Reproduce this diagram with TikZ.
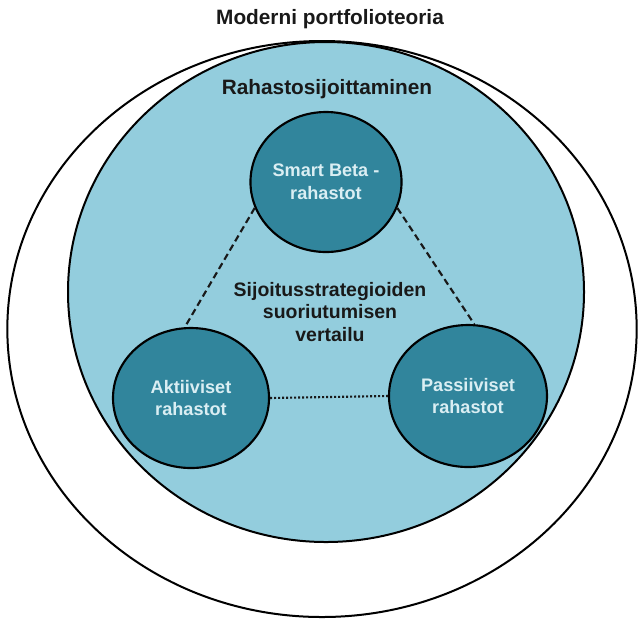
\documentclass[tikz,border=0pt]{standalone}
\usepackage{fontspec}
\setmainfont{Liberation Sans}
\usetikzlibrary{shapes,positioning}
\definecolor{aqualight}{HTML}{93CDDD}
\definecolor{aquadark}{HTML}{31859C}
\definecolor{aquatext}{HTML}{DAEEF3}

\begin{document}
\begin{tikzpicture}[x=0.75pt, y=-0.75pt]
  % Nested fields and the three fund types
  \tikzstyle{field} = [ellipse, draw=black, line width=1.5pt, inner sep=0pt]
  \tikzstyle{fund} = [ellipse, draw=black, line width=1.6pt, fill=aquadark, text=aquatext, align=center, inner sep=0pt, font=\fontsize{13.6}{17}\selectfont\bfseries]
  \tikzstyle{heading} = [text=black!90, font=\fontsize{15.6}{18}\selectfont\bfseries]
  \tikzstyle{link} = [line width=1.6pt, draw=black!90]
  \useasboundingbox (0,0) rectangle (638,619);

  % Outer and inner field
  \node[field, fill=white, minimum width=472pt, minimum height=432pt] (theory) at (322, 329) {};
  \node[field, fill=aqualight, minimum width=387pt, minimum height=375pt] (funds) at (326, 292) {};
  \node[heading] (theorylabel) at (330, 19) {Moderni portfolioteoria};
  \node[heading] (fundslabel) at (327, 89) {Rahastosijoittaminen};

  % Fund types
  \node[fund, minimum width=112.5pt, minimum height=105pt] (smart) at (326, 182) {Smart Beta -\\rahastot};
  \node[fund, minimum width=117pt, minimum height=105pt] (active) at (191, 398) {Aktiiviset\\rahastot};
  \node[fund, minimum width=118.5pt, minimum height=106.5pt] (passive) at (468, 396) {Passiiviset\\rahastot};

  % Comparison in the middle
  \node[heading, align=center, font=\fontsize{14.6}{16.9}\selectfont\bfseries] (compare) at (330, 312) {Sijoitusstrategioiden\\suoriutumisen\\vertailu};

  % Links between the fund types
  \draw[link, dash pattern=on 5pt off 3pt] (smart.200) -- (active.95);
  \draw[link, dash pattern=on 5pt off 3pt] (smart.340) -- (passive.85);
  \draw[link, dash pattern=on 1.6pt off 1.4pt] (active.east) -- (passive.west);
\end{tikzpicture}
\end{document}
